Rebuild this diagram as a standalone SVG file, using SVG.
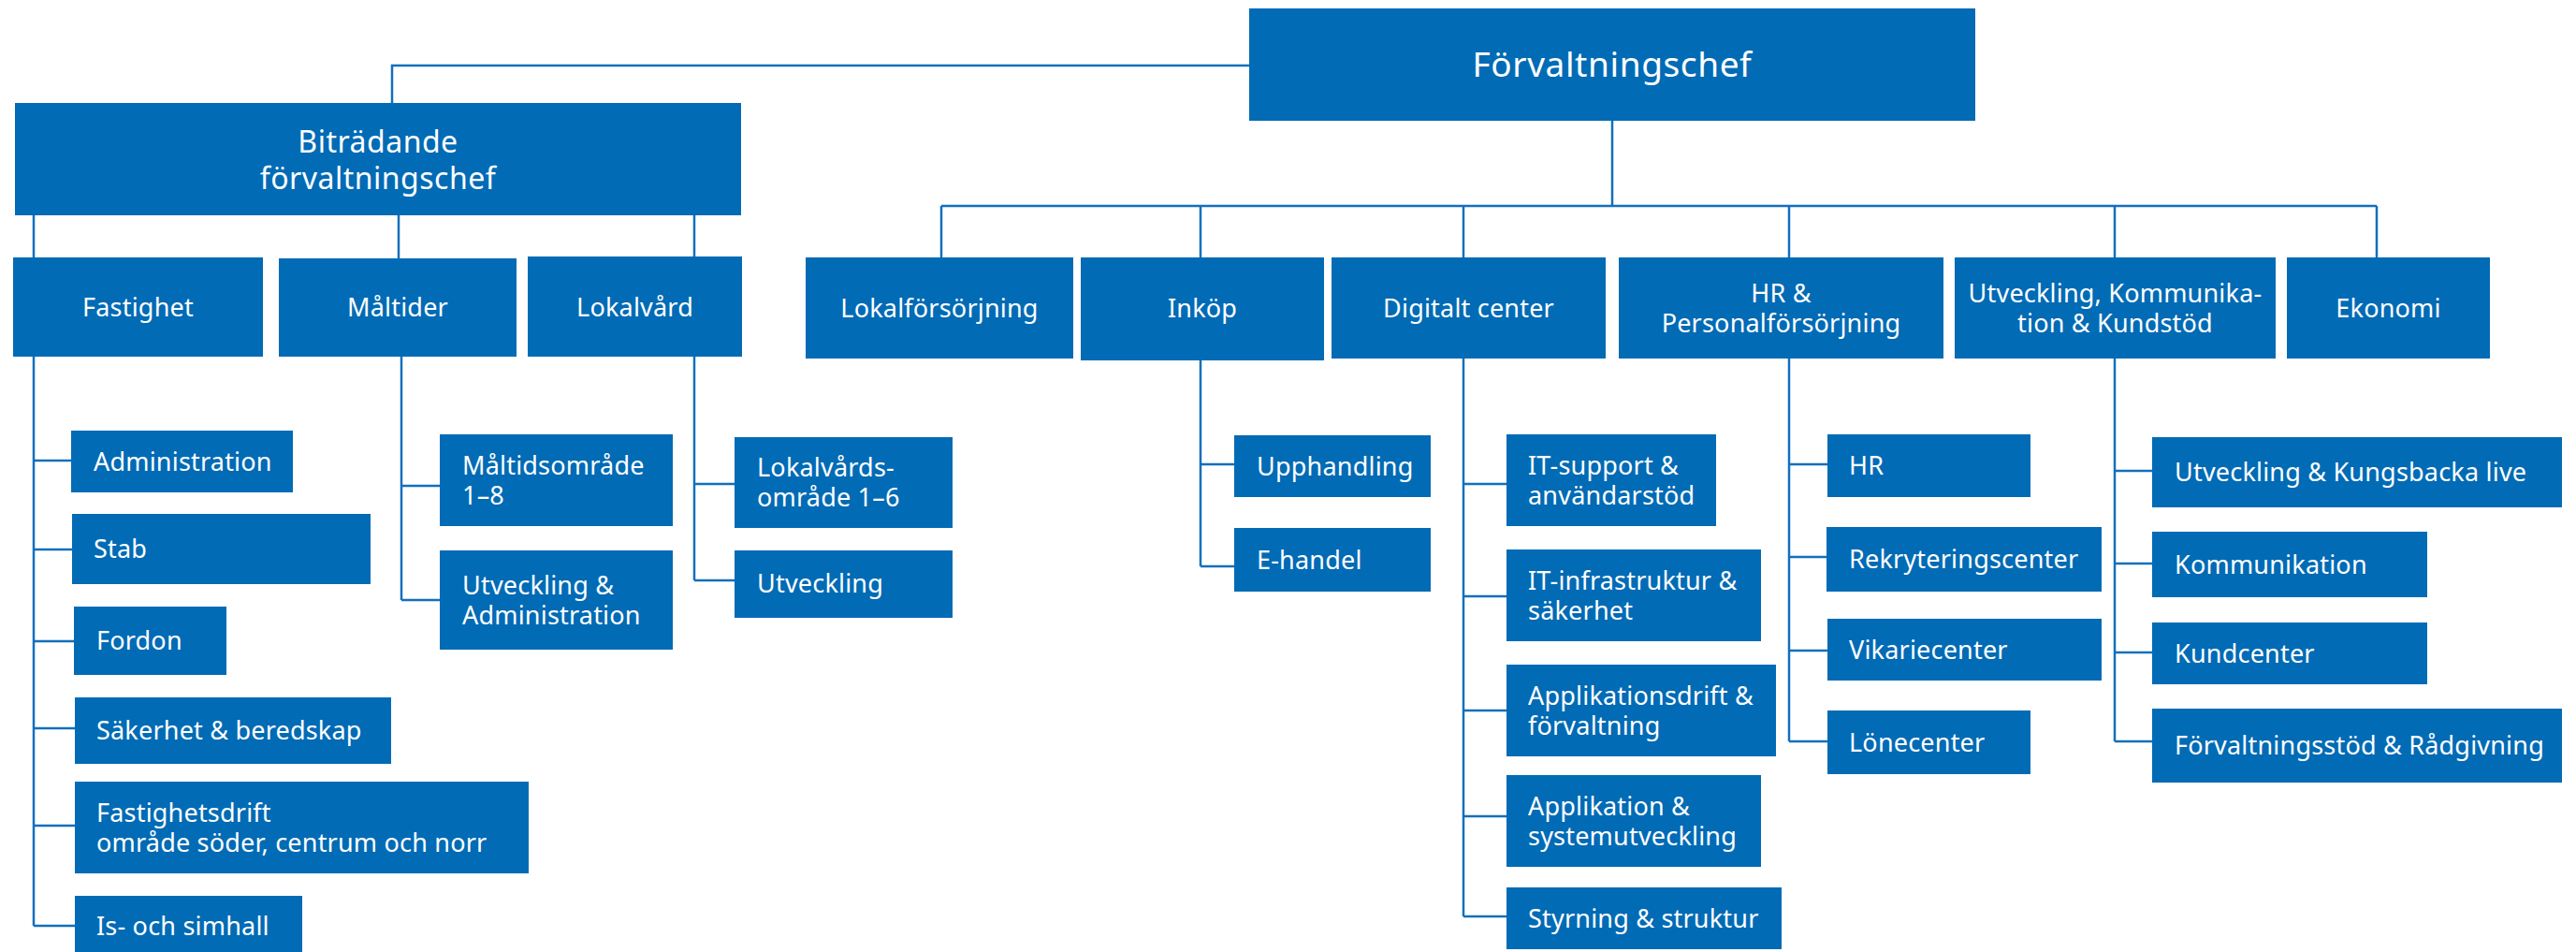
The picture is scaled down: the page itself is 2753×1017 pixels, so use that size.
<svg xmlns="http://www.w3.org/2000/svg" width="2753" height="1017" viewBox="0 0 2753 1017">
<style>
.b{fill:#026BB5}
.t{font-family:"Noto Sans","Liberation Sans",sans-serif;font-size:27px;letter-spacing:0.2px;fill:#fff}
.c{text-anchor:middle}
.l{fill:none;stroke:#136FBD;stroke-width:2.5}
</style>
<rect width="2753" height="1017" fill="#fff"/>
<g id="connectors" class="l">
<path d="M419,110V70H1335M1723,129V220M1006,220H2540M1006,220V275M1283,220V275M1564,220V275M1912,220V275M2260,220V275M2540,220V275"/>
<path d="M36,230V275M426,230V276M742,230V274"/>
<path d="M36,381V989M36,492H80M36,587H80M36,685H80M36,778H80M36,882H80M36,989H80"/>
<path d="M429,381V641M429,519H470M429,641H470"/>
<path d="M742,381V620M742,517H785M742,620H785"/>
<path d="M1283,385V605M1283,496H1319M1283,605H1319"/>
<path d="M1564,383V979M1564,517H1610M1564,637H1610M1564,759H1610M1564,872H1610M1564,979H1610"/>
<path d="M1912,383V792M1912,496H1953M1912,595H1952M1912,695H1953M1912,792H1953"/>
<path d="M2260,383V792M2260,503H2300M2260,602H2300M2260,697H2300M2260,792H2300"/>
</g>
<g id="n-root"><rect class="b" x="1335" y="9" width="776" height="120"/><text class="t c" x="1723" y="82" style="font-size:37px;letter-spacing:0.6px">Förvaltningschef</text></g>
<g id="n-deputy"><rect class="b" x="16" y="110" width="776" height="120"/><text class="t c" x="404" y="163" style="font-size:32px;letter-spacing:0.5px">Biträdande</text><text class="t c" x="404" y="202" style="font-size:32px;letter-spacing:0.5px">förvaltningschef</text></g>
<g id="n-fastighet"><rect class="b" x="14" y="275" width="267" height="106"/><text class="t c" x="147.5" y="338">Fastighet</text></g>
<g id="n-maltider"><rect class="b" x="298" y="276" width="254" height="105"/><text class="t c" x="425" y="338">Måltider</text></g>
<g id="n-lokalvard"><rect class="b" x="564" y="274" width="229" height="107"/><text class="t c" x="678.5" y="338">Lokalvård</text></g>
<g id="n-lokalforsorjning"><rect class="b" x="861" y="275" width="286" height="108"/><text class="t c" x="1004" y="339">Lokalförsörjning</text></g>
<g id="n-inkop"><rect class="b" x="1155" y="275" width="260" height="110"/><text class="t c" x="1285" y="339">Inköp</text></g>
<g id="n-digitalt"><rect class="b" x="1423" y="275" width="293" height="108"/><text class="t c" x="1569.5" y="339">Digitalt center</text></g>
<g id="n-hr"><rect class="b" x="1730" y="275" width="347" height="108"/><text class="t c" x="1903.5" y="323">HR &amp;</text><text class="t c" x="1903.5" y="355">Personalförsörjning</text></g>
<g id="n-ukk"><rect class="b" x="2089" y="275" width="343" height="108"/><text class="t c" x="2260.5" y="323">Utveckling, Kommunika-</text><text class="t c" x="2260.5" y="355">tion &amp; Kundstöd</text></g>
<g id="n-ekonomi"><rect class="b" x="2444" y="275" width="217" height="108"/><text class="t c" x="2552.5" y="339">Ekonomi</text></g>
<g id="n-administration"><rect class="b" x="76" y="460" width="237" height="66"/><text class="t" x="100" y="503">Administration</text></g>
<g id="n-stab"><rect class="b" x="77" y="549" width="319" height="75"/><text class="t" x="100" y="596">Stab</text></g>
<g id="n-fordon"><rect class="b" x="79" y="648" width="163" height="73"/><text class="t" x="103" y="694">Fordon</text></g>
<g id="n-sakerhet"><rect class="b" x="80" y="745" width="338" height="71"/><text class="t" x="103" y="790">Säkerhet &amp; beredskap</text></g>
<g id="n-fastighetsdrift"><rect class="b" x="80" y="835" width="485" height="98"/><text class="t" x="103" y="878">Fastighetsdrift</text><text class="t" x="103" y="910">område söder, centrum och norr</text></g>
<g id="n-ishall"><rect class="b" x="80" y="957" width="243" height="60"/><text class="t" x="103" y="999">Is- och simhall</text></g>
<g id="n-maltidsomrade"><rect class="b" x="470" y="464" width="249" height="98"/><text class="t" x="494" y="507">Måltidsområde</text><text class="t" x="494" y="539">1–8</text></g>
<g id="n-malt-utv"><rect class="b" x="470" y="588" width="249" height="106"/><text class="t" x="494" y="635">Utveckling &amp;</text><text class="t" x="494" y="667">Administration</text></g>
<g id="n-lokalvardsomrade"><rect class="b" x="785" y="467" width="233" height="97"/><text class="t" x="809" y="509">Lokalvårds-</text><text class="t" x="809" y="541">område 1–6</text></g>
<g id="n-lokal-utv"><rect class="b" x="785" y="588" width="233" height="72"/><text class="t" x="809" y="633">Utveckling</text></g>
<g id="n-upphandling"><rect class="b" x="1319" y="465" width="210" height="66"/><text class="t" x="1343" y="508">Upphandling</text></g>
<g id="n-ehandel"><rect class="b" x="1319" y="564" width="210" height="68"/><text class="t" x="1343" y="608">E-handel</text></g>
<g id="n-itsupport"><rect class="b" x="1610" y="464" width="224" height="98"/><text class="t" x="1633" y="507">IT-support &amp;</text><text class="t" x="1633" y="539">användarstöd</text></g>
<g id="n-itinfra"><rect class="b" x="1610" y="587" width="272" height="98"/><text class="t" x="1633" y="630">IT-infrastruktur &amp;</text><text class="t" x="1633" y="662">säkerhet</text></g>
<g id="n-appdrift"><rect class="b" x="1610" y="710" width="288" height="98"/><text class="t" x="1633" y="753">Applikationsdrift &amp;</text><text class="t" x="1633" y="785">förvaltning</text></g>
<g id="n-appsys"><rect class="b" x="1610" y="828" width="272" height="98"/><text class="t" x="1633" y="871">Applikation &amp;</text><text class="t" x="1633" y="903">systemutveckling</text></g>
<g id="n-styrning"><rect class="b" x="1610" y="948" width="294" height="66"/><text class="t" x="1633" y="991">Styrning &amp; struktur</text></g>
<g id="n-hr2"><rect class="b" x="1953" y="464" width="217" height="67"/><text class="t" x="1976" y="507">HR</text></g>
<g id="n-rekry"><rect class="b" x="1952" y="563" width="294" height="69"/><text class="t" x="1976" y="607">Rekryteringscenter</text></g>
<g id="n-vikarie"><rect class="b" x="1953" y="661" width="293" height="66"/><text class="t" x="1976" y="704">Vikariecenter</text></g>
<g id="n-lone"><rect class="b" x="1953" y="759" width="217" height="68"/><text class="t" x="1976" y="803">Lönecenter</text></g>
<g id="n-kblive"><rect class="b" x="2300" y="467" width="438" height="75"/><text class="t" x="2324" y="514">Utveckling &amp; Kungsbacka live</text></g>
<g id="n-kommunikation"><rect class="b" x="2300" y="568" width="294" height="70"/><text class="t" x="2324" y="613">Kommunikation</text></g>
<g id="n-kundcenter"><rect class="b" x="2300" y="665" width="294" height="66"/><text class="t" x="2324" y="708">Kundcenter</text></g>
<g id="n-forvstod"><rect class="b" x="2300" y="757" width="438" height="79"/><text class="t" x="2324" y="806">Förvaltningsstöd &amp; Rådgivning</text></g>
</svg>
